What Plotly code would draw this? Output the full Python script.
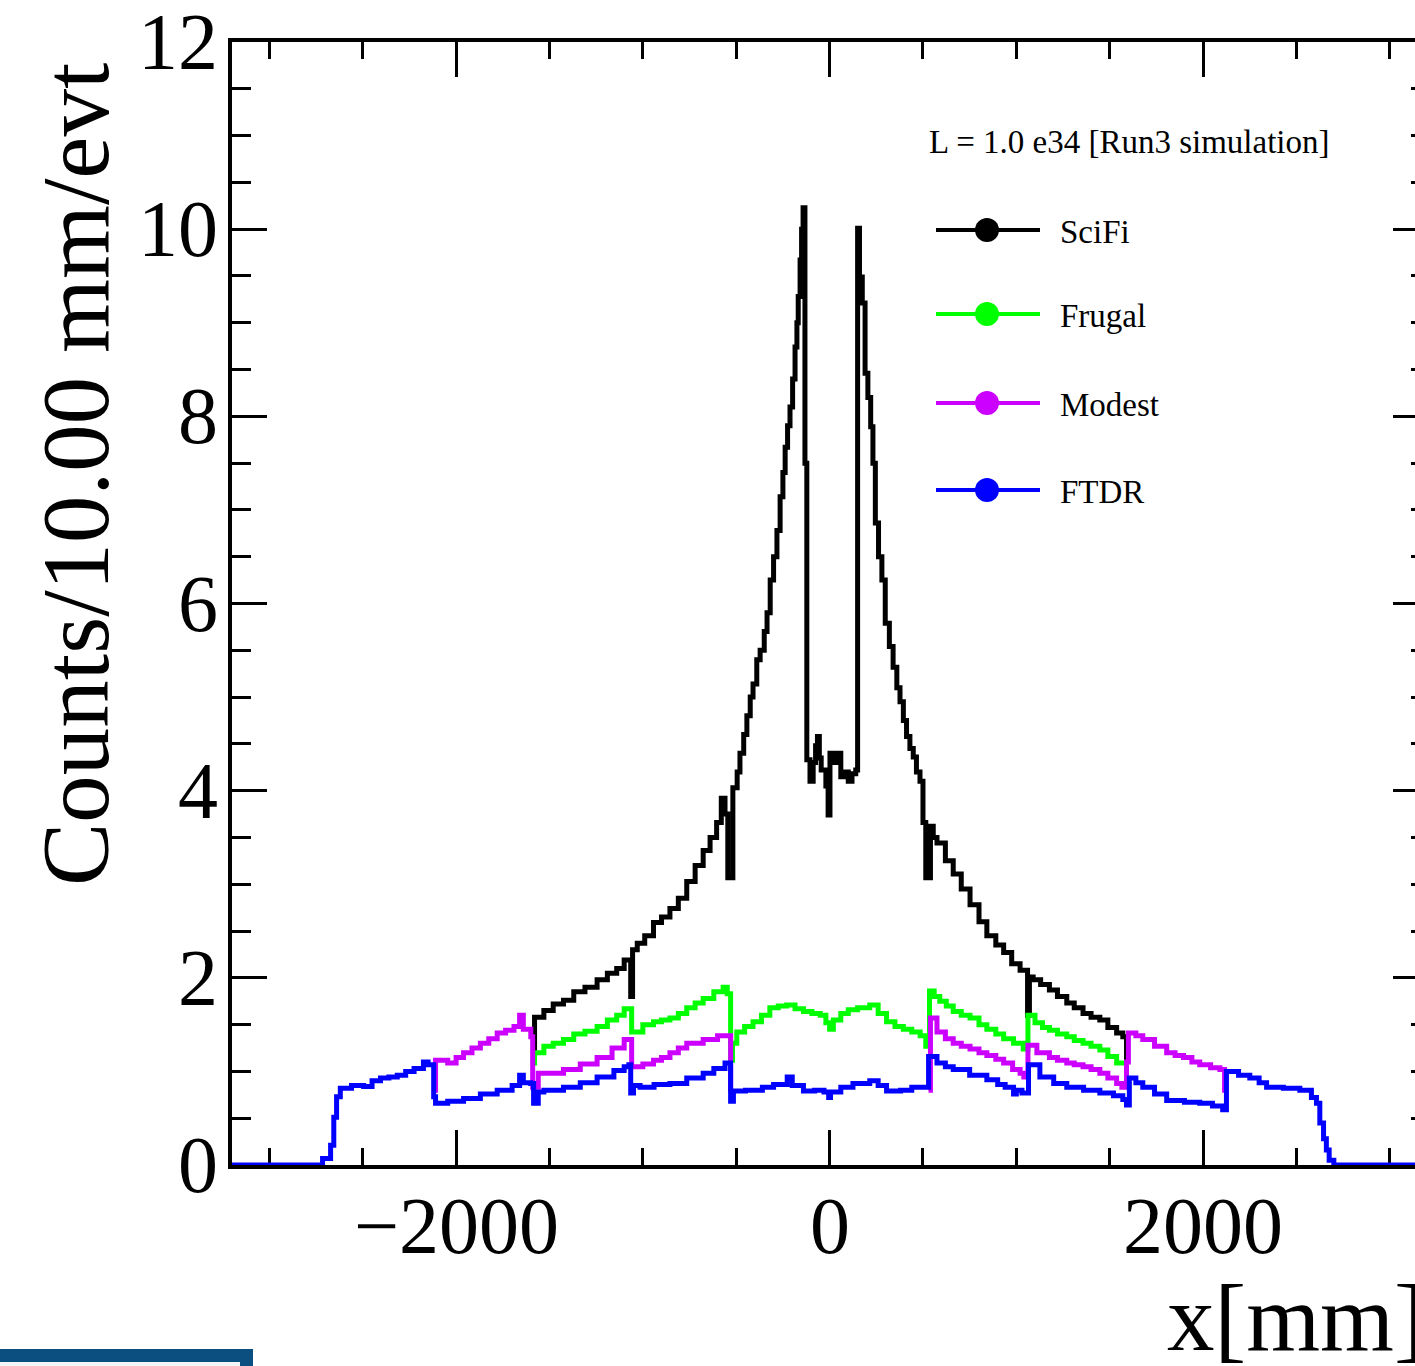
import plotly.graph_objects as go

# ---------------- data (bin left edges in mm, counts per 10 mm per event) -------------
scifi_x = [-1590, -1580, -1530, -1480, -1425, -1370, -1310, -1245, -1190, -1140, -1100,
           -1065, -1055, -1030, -990, -943, -900, -855, -810, -765, -720, -677, -640,
           -605, -580, -560, -545, -518, -495, -480, -460, -443, -425, -410, -390, -372,
           -350, -335, -318, -300, -282, -265, -250, -238, -225, -212, -198, -185, -175,
           -168, -158, -150, -142, -132, -122, -105, -88, -75, -65, -55, -45, -20, -8,
           2, 20, 40, 60, 80, 100, 120, 140, 150, 160, 175, 190, 205, 220, 232, 245, 262,
           280, 298, 320, 340, 360, 377, 395, 412, 430, 448, 465, 484, 500, 515, 540, 555,
           575, 620, 662, 705, 752, 800, 842, 890, 932, 975, 1020, 1060, 1070, 1090, 1130,
           1177, 1220, 1270, 1310, 1357, 1400, 1447, 1490, 1537, 1570, 1590]
scifi_y = [1.23, 1.58, 1.65, 1.72, 1.76, 1.85, 1.90, 1.98, 2.05, 2.10, 2.19,
           1.80, 2.30, 2.37, 2.45, 2.59, 2.65, 2.74, 2.85, 3.03, 3.20, 3.36, 3.50,
           3.66, 3.92, 3.75, 3.07, 4.03, 4.20, 4.40, 4.60, 4.80, 5.00, 5.14, 5.40, 5.50,
           5.70, 5.90, 6.25, 6.50, 6.78, 7.14, 7.40, 7.67, 7.90, 8.10, 8.40, 8.74, 9.00,
           9.28, 9.67, 10.00, 10.23, 7.50, 4.33, 4.10, 4.30, 4.48, 4.58, 4.35, 4.22, 4.05, 3.74,
           4.40, 4.30, 4.40, 4.15, 4.20, 4.10, 4.18, 4.22, 10.01, 9.49, 9.21, 8.46, 8.20, 7.89, 7.50, 6.86, 6.50,
           6.25, 5.79, 5.54, 5.32, 5.10, 4.95, 4.75, 4.58, 4.45, 4.36, 4.20, 4.10, 3.66, 3.07, 3.62, 3.50,
           3.44, 3.25, 3.11, 2.95, 2.78, 2.60, 2.45, 2.35, 2.27, 2.15, 2.08, 1.60, 2.01, 1.98, 1.93,
           1.87, 1.80, 1.73, 1.68, 1.62, 1.58, 1.55, 1.47, 1.41, 1.37, 1.12]
scifi_end = 1600

frugal_x = [-1590, -1580, -1530, -1480, -1425, -1370, -1310, -1245, -1190, -1140, -1100,
            -1060, -1000, -943, -900, -855, -810, -765, -720, -677, -620, -570, -548,
            -530, -520, -497, -455, -410, -365, -320, -275, -230, -185, -140, -95, -50,
            -20, 0, 20, 60, 100, 150, 215, 260, 305, 350, 395, 440, 485, 515, 535, 560,
            590, 625, 662, 705, 752, 800, 842, 890, 932, 985, 1037, 1062, 1100, 1140,
            1177, 1220, 1270, 1310, 1357, 1400, 1447, 1490, 1537, 1580]
frugal_y = [1.09, 1.20, 1.27, 1.30, 1.34, 1.40, 1.43, 1.48, 1.55, 1.60, 1.67,
            1.42, 1.50, 1.53, 1.55, 1.57, 1.62, 1.68, 1.73, 1.78, 1.85, 1.90, 1.83,
            1.12, 1.30, 1.42, 1.48, 1.53, 1.60, 1.68, 1.70, 1.71, 1.67, 1.64, 1.62, 1.60,
            1.52, 1.45, 1.55, 1.62, 1.66, 1.68, 1.71, 1.62, 1.53, 1.48, 1.45, 1.42, 1.38, 1.27, 1.86, 1.80,
            1.75, 1.70, 1.64, 1.60, 1.57, 1.50, 1.45, 1.40, 1.35, 1.30, 1.24, 1.60, 1.52, 1.47,
            1.44, 1.40, 1.37, 1.33, 1.30, 1.27, 1.23, 1.16, 1.09, 1.09]
frugal_end = 1600

modest_left_x = [-2120, -2110, -2045, -2000, -1960, -1915, -1870, -1825, -1780, -1735,
                 -1690, -1660, -1640, -1600, -1590, -1560, -1510, -1425, -1335, -1245,
                 -1165, -1100, -1060, -1000, -943, -900, -855, -810, -765, -677, -600,
                 -550, -530]
modest_left_y = [0.80, 1.12, 1.09, 1.15, 1.20, 1.25, 1.30, 1.35, 1.41, 1.44,
                 1.48, 1.60, 1.45, 1.37, 0.83, 0.98, 0.98, 1.02, 1.08, 1.15,
                 1.25, 1.34, 1.05, 1.08, 1.12, 1.15, 1.20, 1.25, 1.30, 1.34, 1.38,
                 1.38, 0.80]
modest_left_end = -520
modest_right_x = [530, 540, 575, 620, 662, 705, 752, 800, 842, 890, 932, 980, 1020,
                  1040, 1062, 1110, 1177, 1220, 1270, 1310, 1357, 1400, 1447, 1490,
                  1537, 1565, 1590, 1600, 1640, 1677, 1740, 1805, 1850, 1895, 1940,
                  1982, 2040, 2090, 2115]
modest_right_y = [0.80, 1.57, 1.42, 1.35, 1.30, 1.27, 1.24, 1.20, 1.17, 1.13, 1.09, 1.02, 0.98,
                  0.94, 1.28, 1.20, 1.15, 1.12, 1.09, 1.07, 1.05, 1.02, 0.98, 0.93,
                  0.87, 0.83, 1.10, 1.41, 1.38, 1.34, 1.27, 1.20, 1.17, 1.15, 1.10,
                  1.07, 1.04, 1.02, 0.80]
modest_right_end = 2125

ftdr_x = [-3200, -2715, -2672, -2655, -2640, -2620, -2560, -2495, -2450, -2405, -2360,
          -2315, -2270, -2225, -2175, -2150, -2120, -2110, -2045, -1960, -1870, -1780,
          -1700, -1660, -1640, -1600, -1585, -1560, -1530, -1425, -1335, -1245, -1155,
          -1100, -1075, -1065, -1050, -1015, -940, -855, -765, -677, -620, -560, -530,
          -515, -450, -360, -300, -227, -200, -140, -80, -30, -5, 5, 60, 125, 215, 260,
          305, 380, 440, 485, 530, 575, 620, 662, 750, 842, 900, 940, 985, 1000, 1030,
          1065, 1126, 1200, 1270, 1360, 1447, 1520, 1570, 1590, 1605, 1640, 1677, 1740,
          1805, 1900, 1982, 2050, 2105, 2125, 2190, 2250, 2300, 2340, 2430, 2518, 2580,
          2607, 2625, 2645, 2660, 2675, 2700]
ftdr_y = [0.00, 0.07, 0.21, 0.51, 0.73, 0.82, 0.85, 0.84, 0.90, 0.93, 0.94,
          0.96, 1.00, 1.03, 1.10, 1.07, 0.73, 0.66, 0.68, 0.71, 0.76, 0.80,
          0.85, 0.96, 0.88, 0.87, 0.66, 0.78, 0.80, 0.83, 0.88, 0.94, 1.01,
          1.05, 1.07, 0.77, 0.85, 0.83, 0.86, 0.87, 0.93, 0.98, 1.03, 1.09, 0.68,
          0.79, 0.80, 0.83, 0.86, 0.94, 0.85, 0.79, 0.80, 0.78, 0.72, 0.78, 0.83, 0.87, 0.90, 0.85,
          0.79, 0.80, 0.83, 0.83, 1.16, 1.09, 1.05, 1.02, 0.96, 0.91, 0.86, 0.83, 0.76, 0.80, 0.77,
          1.07, 0.94, 0.87, 0.83, 0.80, 0.77, 0.74, 0.70, 0.64, 0.93, 0.88, 0.83, 0.76,
          0.69, 0.67, 0.66, 0.63, 0.59, 1.00, 0.96, 0.93, 0.88, 0.83, 0.82, 0.80, 0.72,
          0.66, 0.45, 0.28, 0.16, 0.05, 0.00]
ftdr_end = 3200

series_names = ["SciFi", "Frugal", "Modest", "FTDR"]
series_colors = ["#000000", "#00ff00", "#cc00ff", "#0000ff"]

x_ticks = [-2000, 0, 2000]
x_tick_labels = ["\u22122000", "0", "2000"]
y_ticks = [0, 2, 4, 6, 8, 10, 12]
y_tick_labels = ["0", "2", "4", "6", "8", "10", "12"]

header_text = "L = 1.0 e34 [Run3 simulation]"
y_title = "Counts/10.00 mm/evt"
x_title = "x[mm]"

# ---------------- build ----------------
def steps(xs, ys, end):
    return list(xs) + [end], list(ys) + [ys[-1]]

sx, sy = steps(scifi_x, scifi_y, scifi_end)
fx, fy = steps(frugal_x, frugal_y, frugal_end)
mlx, mly = steps(modest_left_x, modest_left_y, modest_left_end)
mrx, mry = steps(modest_right_x, modest_right_y, modest_right_end)
mx, my = mlx + [None] + mrx, mly + [None] + mry
bx, by = steps(ftdr_x, ftdr_y, ftdr_end)

FONT = "Liberation Serif, Times New Roman, serif"
LW = 5

fig = go.Figure()
for (xs, ys), name, col in zip([(sx, sy), (fx, fy), (mx, my), (bx, by)], series_names, series_colors):
    fig.add_trace(go.Scatter(x=xs, y=ys, mode="lines", name=name,
                             line=dict(color=col, width=LW, shape="hv"),
                             connectgaps=False, showlegend=False, hoverinfo="skip"))

# invisible trace to carry the right-hand tick axis
fig.add_trace(go.Scatter(x=[0], y=[0], yaxis="y2", mode="markers",
                         marker=dict(opacity=0), showlegend=False, hoverinfo="skip"))

L, T, B = 232, 42, 1165
W, H = 1415, 1366
PW, PH = W - L, B - T
def px(xp):
    return (xp - L) / PW
def py(yp):
    return (B - yp) / PH

x_right = -3200 + PW / 0.18675

fig.update_layout(
    width=W, height=H, autosize=False,
    margin=dict(l=L, r=0, t=T, b=H - B, pad=0),
    paper_bgcolor="white", plot_bgcolor="white",
    font=dict(family=FONT, color="black"),
    xaxis=dict(range=[-3200, x_right], tickmode="array", tickvals=x_ticks,
               showticklabels=False,
               ticks="inside", ticklen=35, tickwidth=3, tickcolor="black",
               minor=dict(dtick=500, tick0=0, ticks="inside", ticklen=17, tickwidth=3,
                          tickcolor="black", showgrid=False),
               showline=True, linewidth=4, linecolor="black", mirror="ticks",
               showgrid=False, zeroline=False, layer="below traces"),
    yaxis=dict(range=[0, 12], tickmode="array", tickvals=y_ticks,
               showticklabels=False,
               ticks="inside", ticklen=35, tickwidth=3, tickcolor="black",
               minor=dict(dtick=0.5, tick0=0, ticks="inside", ticklen=19, tickwidth=3,
                          tickcolor="black", showgrid=False),
               showline=True, linewidth=4, linecolor="black", mirror=False,
               showgrid=False, zeroline=False, layer="below traces"),
    yaxis2=dict(range=[0, 12], overlaying="y", side="right", anchor="x",
                tickmode="array", tickvals=y_ticks, showticklabels=False,
                ticks="inside", ticklen=22, tickwidth=3, tickcolor="black",
                minor=dict(dtick=0.5, tick0=0, ticks="inside", ticklen=4, tickwidth=3,
                           tickcolor="black", showgrid=False),
                showline=False, showgrid=False, zeroline=False),
)

annotations = [
    dict(text=y_title, x=px(76), y=py(475), xref="paper", yref="paper",
         xanchor="center", yanchor="middle", textangle=-90, showarrow=False,
         font=dict(family=FONT, size=95, color="black")),
    dict(text=x_title, x=px(1428), y=py(1318), xref="paper", yref="paper",
         xanchor="right", yanchor="middle", showarrow=False,
         font=dict(family=FONT, size=95, color="black")),
    dict(text=header_text, x=px(928), y=py(142), xref="paper", yref="paper",
         xanchor="left", yanchor="middle", showarrow=False, borderpad=0,
         font=dict(family=FONT, size=33, color="black")),
]

# tick labels
for v, t in zip(x_ticks, x_tick_labels):
    annotations.append(dict(text=t, x=v, y=py(1226), xref="x", yref="paper",
                            xanchor="center", yanchor="middle", showarrow=False, borderpad=0,
                            font=dict(family=FONT, size=80, color="black")))
for v, t in zip(y_ticks, y_tick_labels):
    annotations.append(dict(text=t, x=px(219), y=v, xref="paper", yref="y",
                            xanchor="right", yanchor="middle", showarrow=False, borderpad=0,
                            font=dict(family=FONT, size=80, color="black")))

shapes = []
legend_rows = [230, 314, 403, 490]
for name, col, yrow in zip(series_names, series_colors, legend_rows):
    shapes.append(dict(type="line", xref="paper", yref="paper",
                       x0=px(936), x1=px(1040), y0=py(yrow), y1=py(yrow),
                       line=dict(color=col, width=4)))
    shapes.append(dict(type="circle", xref="paper", yref="paper",
                       xsizemode="pixel", ysizemode="pixel",
                       xanchor=px(987), yanchor=py(yrow),
                       x0=-12, x1=12, y0=-12, y1=12,
                       fillcolor=col, line=dict(color=col, width=0)))
    annotations.append(dict(text=name, x=px(1059), y=py(yrow + 2), xref="paper", yref="paper",
                            xanchor="left", yanchor="middle", showarrow=False, borderpad=0,
                            font=dict(family=FONT, size=33, color="black")))

# partial frame visible at the bottom-left corner of the picture
shapes.append(dict(type="rect", xref="paper", yref="paper", layer="above",
                   x0=px(0), x1=px(253), y0=py(1370), y1=py(1349),
                   fillcolor="#0b4f80", line=dict(width=0)))
shapes.append(dict(type="rect", xref="paper", yref="paper", layer="above",
                   x0=px(0), x1=px(240), y0=py(1370), y1=py(1362),
                   fillcolor="#f3f5f8", line=dict(width=0)))

fig.update_layout(annotations=annotations, shapes=shapes)

fig.write_html("out.html")
